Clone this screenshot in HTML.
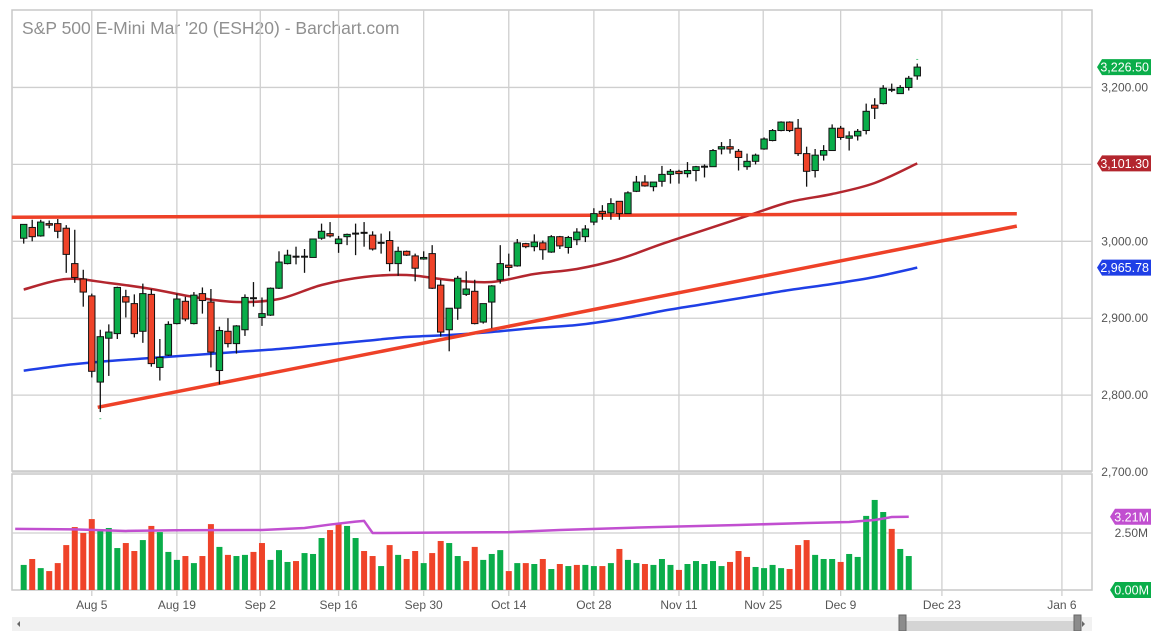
<!DOCTYPE html>
<html><head><meta charset="utf-8">
<style>
body{margin:0;background:#fff;width:1154px;height:631px;overflow:hidden;font-family:"Liberation Sans",sans-serif}
svg{display:block}
</style></head>
<body>
<svg id="chart" width="1154" height="631" xmlns="http://www.w3.org/2000/svg">
<rect x="0" y="0" width="1154" height="631" fill="#fff"/>
<text x="22" y="34" font-size="17.5" fill="#909090" font-family="Liberation Sans, sans-serif">S&amp;P 500 E-Mini Mar '20 (ESH20) - Barchart.com</text>
<g id="grid"></g>
<g id="vol"></g>
<g id="lines"></g>
<g id="candles"></g>
<g id="axes"></g>
<g>
<rect x="12" y="617" width="1080" height="14" fill="#f1f1f1"/>
<rect x="903" y="621" width="174" height="10" fill="#d4d4d4"/>
<rect x="899" y="615" width="7" height="16" fill="#8c8c8c" stroke="#666"/>
<rect x="1074" y="615" width="7" height="16" fill="#8c8c8c" stroke="#666"/>
<polygon points="17,624 20,621 20,627" fill="#666"/>
<polygon points="1085,624 1082,621 1082,627" fill="#666"/>
</g>
</svg>
<script>
// ---- data ----
const opens  = [3004,3018,3007,3023,3023,3017,2971,2951,2929,2817,2874,2880,2928,2919,2883,2931,2836,2852,2893,2922,2893,2932,2921,2832,2883,2867,2885,2926,2901,2904,2939,2971,2980,2980,2979,3004,3010,2997,3006,3010,3010,3008,2998,3001,2971,2987,2981,2977,2984,2943,2885,2913,2931,2935,2895,2921,2950,2969,2968,2997,2993,2998,2986,3006,2992,3002,3006,3025,3039,3037,3052,3036,3065,3077,3071,3078,3087,3091,3088,3092,3097,3097,3120,3123,3117,3097,3104,3120,3131,3144,3155,3147,3114,3092,3112,3118,3147,3134,3137,3144,3177,3179,3196,3192,3200,3215];
const highs  = [3022,3028,3028,3027,3029,3021,3015,2963,2932,2885,2892,2941,2937,2931,2945,2938,2873,2896,2932,2928,2934,2940,2938,2889,2900,2891,2931,2947,2927,2940,2987,2989,2993,2990,3003,3023,3025,3007,3010,3023,3025,3013,3010,3013,2993,2988,2984,2987,2995,2950,2913,2955,2961,2950,2919,2943,2995,2984,3003,2998,3009,3001,3008,3007,3007,3017,3021,3043,3047,3056,3052,3065,3085,3086,3077,3098,3094,3093,3103,3098,3100,3120,3129,3133,3120,3114,3114,3135,3146,3156,3156,3159,3123,3120,3125,3152,3150,3143,3146,3179,3186,3203,3205,3203,3215,3231];
const lows   = [2997,3000,3006,3017,3004,2959,2946,2915,2823,2778,2825,2873,2901,2875,2868,2837,2819,2851,2892,2896,2892,2906,2836,2814,2862,2854,2877,2915,2890,2903,2938,2970,2970,2959,2979,3002,3005,2985,2995,2982,2993,2988,2984,2961,2955,2981,2948,2976,2938,2876,2857,2898,2929,2892,2893,2887,2945,2955,2967,2991,2987,2976,2985,2990,2984,2995,2999,3021,3028,3028,3028,3036,3064,3071,3065,3071,3075,3075,3083,3078,3083,3097,3113,3114,3092,3093,3100,3119,3130,3143,3142,3111,3071,3083,3105,3118,3132,3118,3131,3139,3159,3178,3194,3192,3196,3210];
const closes = [3022,3006,3025,3021,3013,2983,2953,2934,2831,2876,2882,2940,2921,2880,2932,2841,2849,2892,2925,2899,2930,2923,2856,2884,2867,2890,2927,2925,2906,2939,2973,2982,2980,2979,3003,3013,3007,3003,3009,3009,3011,2990,2997,2971,2987,2982,2965,2979,2939,2882,2913,2952,2938,2893,2919,2942,2971,2966,2998,2993,2999,2989,3006,2994,3005,3012,3016,3036,3036,3049,3036,3063,3077,3072,3077,3087,3091,3088,3092,3097,3097,3118,3123,3120,3109,3104,3112,3133,3144,3155,3144,3114,3091,3112,3118,3147,3135,3137,3143,3169,3173,3199,3197,3200,3212,3226.5];
const volumes = [1.10,1.36,0.96,0.83,1.18,1.97,2.76,2.50,3.11,2.63,2.72,1.84,2.06,1.71,2.19,2.81,2.54,1.67,1.32,1.49,1.18,1.49,2.89,1.89,1.54,1.49,1.54,1.67,2.06,1.32,1.75,1.23,1.27,1.62,1.58,2.28,2.63,2.94,2.81,2.28,1.71,1.49,1.05,1.97,1.54,1.36,1.71,1.18,1.62,2.15,2.06,1.49,1.27,1.89,1.32,1.58,1.75,0.83,1.18,1.18,1.14,1.36,0.92,1.14,1.05,1.10,1.10,1.05,1.05,1.18,1.80,1.32,1.18,1.14,1.10,1.36,1.10,0.88,1.14,1.27,1.14,1.27,1.05,1.23,1.71,1.45,1.01,0.96,1.10,0.96,0.92,1.97,2.19,1.54,1.36,1.36,1.23,1.58,1.45,3.25,3.95,3.42,2.68,1.80,1.49];
const volUp = "GRGRRRRRRGGGRRGRGGGRGRRGRGGRRGGGRGGGRRGGRRGRGRRGRRGGRRGGGRGRGRGRGRGGRGRGGRGGGRGGGGGRRRGGGGRRRGGGRGGGGGRGG";
const maIdx = [0,5,10,15,20,25,30,35,40,45,50,55,60,65,70,75,80,85,90,95,100,105];
const ma50  = [2937.3,2951.0,2945.8,2938.0,2927.6,2921.1,2925.0,2943.2,2953.6,2956.2,2949.7,2947.1,2957.5,2964.0,2977.0,2996.5,3014.7,3032.9,3051.1,3061.5,3075.8,3101.3];
const ma200 = [2831.8,2839.2,2844.4,2848.3,2852.2,2856.1,2860.0,2865.2,2870.4,2875.6,2878.2,2882.1,2887.3,2891.2,2899.0,2909.4,2918.5,2927.6,2936.7,2944.5,2953.6,2965.78];
const volMaIdx = [-1,6,12,18,28,33,36,39,40,41,50,57,63,74,84,92,97,100,102,104];
const volMaVal = [2.68,2.66,2.59,2.62,2.63,2.72,2.87,3.00,3.03,2.50,2.52,2.54,2.63,2.76,2.85,2.94,2.98,3.07,3.20,3.21];
const trendIdx1 = [-1.4,116.7], trendVal1 = [3031.2,3035.8];
const trendIdx2 = [8.7,116.7],  trendVal2 = [2784.2,3019.7];
const priceTicks = [3200,3100,3000,2900,2800,2700];
const priceTickLabels = ["3,200.00","3,100.00","3,000.00","2,900.00","2,800.00","2,700.00"];
const dateTickIdx = [8,18,27.8,37,47,57,67,77,86.9,96,107.9,122];
const dateTickLabels = ["Aug 5","Aug 19","Sep 2","Sep 16","Sep 30","Oct 14","Oct 28","Nov 11","Nov 25","Dec 9","Dec 23","Jan 6"];

// ---- scales ----
const L=12,R=1092,TOP=10,BOT=471,VTOP=474,VBOT=590;
const xS=i=>23.7+i*8.51;
const yS=p=>241.3-(p-3000)*0.7692;
const vS=v=>VBOT-v*22.8;
const NS="http://www.w3.org/2000/svg";
function mk(tag,attrs,parent){const e=document.createElementNS(NS,tag);for(const k in attrs)e.setAttribute(k,attrs[k]);parent.appendChild(e);return e;}
const G=id=>document.getElementById(id);
const GREEN="#0aad4a",RED="#ef4329";
function smooth(pts){
 let d='M'+pts[0][0]+','+pts[0][1];
 for(let i=0;i<pts.length-1;i++){
  const p0=pts[i-1]||pts[i],p1=pts[i],p2=pts[i+1],p3=pts[i+2]||p2;
  const c1=[p1[0]+(p2[0]-p0[0])/6,p1[1]+(p2[1]-p0[1])/6];
  const c2=[p2[0]-(p3[0]-p1[0])/6,p2[1]-(p3[1]-p1[1])/6];
  d+=' C'+c1[0]+','+c1[1]+' '+c2[0]+','+c2[1]+' '+p2[0]+','+p2[1];
 }
 return d;
}

// grid & frames
const grid=G('grid');
mk('rect',{x:L,y:TOP,width:R-L,height:BOT-TOP,fill:'none',stroke:'#c8c8c8','stroke-width':1.5},grid);
mk('rect',{x:L,y:VTOP,width:R-L,height:VBOT-VTOP,fill:'none',stroke:'#c8c8c8','stroke-width':1.5},grid);
priceTicks.forEach(p=>{mk('line',{x1:L,x2:R,y1:yS(p),y2:yS(p),stroke:'#cfcfcf','stroke-width':1.3},grid);});
mk('line',{x1:L,x2:R,y1:vS(2.5),y2:vS(2.5),stroke:'#cfcfcf','stroke-width':1.3},grid);
dateTickIdx.forEach(i=>{const x=xS(i);
 mk('line',{x1:x,x2:x,y1:TOP,y2:BOT,stroke:'#cfcfcf','stroke-width':1.3},grid);
 mk('line',{x1:x,x2:x,y1:VTOP,y2:VBOT+6,stroke:'#cfcfcf','stroke-width':1.3},grid);});

// volume
const vol=G('vol');
volumes.forEach((v,i)=>{
 const r=mk('rect',{x:xS(i)-3,y:vS(v),width:6,height:VBOT-vS(v),fill:volUp[i]==='G'?GREEN:RED},vol);
 
 
});
const vma=mk('polyline',{points:volMaIdx.map((d,k)=>xS(d)+','+vS(volMaVal[k])).join(' '),fill:'none',stroke:'#c14fd0','stroke-width':2.5,'stroke-linejoin':'round'},vol);



// lines
const lines=G('lines');
const l50=mk('path',{d:smooth(maIdx.map((d,k)=>[xS(d),yS(ma50[k])])),fill:'none',stroke:'#b3262e','stroke-width':2.5},lines);


const l200=mk('path',{d:smooth(maIdx.map((d,k)=>[xS(d),yS(ma200[k])])),fill:'none',stroke:'#1f3fe6','stroke-width':2.5},lines);


const t1=mk('line',{x1:xS(trendIdx1[0]),y1:yS(trendVal1[0]),x2:xS(trendIdx1[1]),y2:yS(trendVal1[1]),stroke:'#ee4128','stroke-width':3.5},lines);


const t2=mk('line',{x1:xS(trendIdx2[0]),y1:yS(trendVal2[0]),x2:xS(trendIdx2[1]),y2:yS(trendVal2[1]),stroke:'#ee4128','stroke-width':3.5},lines);



// candles
const cg=G('candles');
opens.forEach((o,i)=>{
 const c=closes[i],x=xS(i),up=c>=o;
 const g=mk('g',{},cg);
 
 
 mk('line',{x1:x,x2:x,y1:yS(highs[i]),y2:yS(lows[i]),stroke:'#111','stroke-width':1.3},g);
 const top=yS(Math.max(o,c)),bh=Math.max(1.2,yS(Math.min(o,c))-top);
 if(Math.abs(o-c)<1.5){mk('line',{x1:x-3.5,x2:x+3.5,y1:top,y2:top,stroke:'#111','stroke-width':2},g);}
 else mk('rect',{x:x-3.2,y:top,width:6.4,height:bh,fill:up?GREEN:RED,stroke:'#111','stroke-width':1},g);
});
mk('text',{x:xS(9),y:yS(lows[9])+9,'font-size':8,fill:GREEN,'text-anchor':'middle'},cg).textContent='-';
mk('text',{x:xS(105),y:yS(highs[105])-2,'font-size':8,fill:GREEN,'text-anchor':'middle'},cg).textContent='-';

// axes labels
const ax=G('axes');
priceTicks.forEach((p,k)=>{const t=mk('text',{x:1148,y:yS(p)+4,'font-size':12,fill:'#555','text-anchor':'end'},ax);t.textContent=priceTickLabels[k];
 
 });
dateTickIdx.forEach((d,k)=>{const t=mk('text',{x:xS(d),y:609,'font-size':12,fill:'#555','text-anchor':'middle'},ax);t.textContent=dateTickLabels[k];
 
 });
const v25=mk('text',{x:1148,y:vS(2.5)+4,'font-size':12,fill:'#555','text-anchor':'end'},ax);v25.textContent='2.50M';


function tag(y,txt,col,x0,name){
 const g=mk('g',{},ax);
 
 
 mk('polygon',{points:`${x0},${y} ${x0+5},${y-8} 1151,${y-8} 1151,${y+8} ${x0+5},${y+8}`,fill:col},g);
 const t=mk('text',{x:1149,y:y+4.5,'font-size':12.5,fill:'#fff','text-anchor':'end'},g);t.textContent=txt;
}
tag(yS(closes[105]),'3,226.50',GREEN,1097,'last-price-tag');
tag(yS(ma50[ma50.length-1]),'3,101.30','#b3262e',1097,'ma-50-tag');
tag(yS(ma200[ma200.length-1]),'2,965.78','#1f3fe6',1097,'ma-200-tag');
tag(vS(volMaVal[volMaVal.length-1]),'3.21M','#c14fd0',1110,'volume-ma-tag');
tag(VBOT,'0.00M',GREEN,1110,'volume-zero-tag');
</script>
</body></html>
